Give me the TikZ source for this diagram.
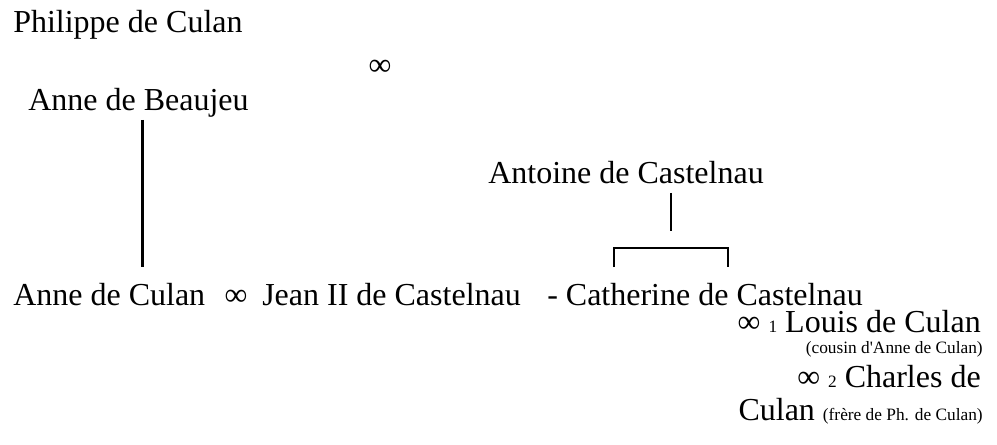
\documentclass[tikz,border=0pt]{standalone}
\usepackage{fontspec}
\setmainfont{Liberation Serif}
\newcommand{\namesize}{\fontsize{24}{28}\selectfont}
\newcommand{\notesize}{\fontsize{13}{15}\selectfont}

\begin{document}
\begin{tikzpicture}[x=0.75pt,y=-0.75pt,
  person/.style={inner sep=0pt, anchor=base west, font=\namesize},
  marriage/.style={inner sep=0pt, font=\namesize},
  note/.style={inner sep=0pt, anchor=base east, font=\notesize},
  link/.style={line width=1.6pt}]
\useasboundingbox (0,0) rectangle (997,444);
% Parents
\node[person] (philippe) at (13,32) {Philippe de Culan};
\node[marriage] (mar0) at (380,68) {∞};
\node[person] (beaujeu) at (28,110) {Anne de Beaujeu};
\node[person] (antoine) at (488,183) {Antoine de Castelnau};

% Children
\node[person] (anne) at (13,305) {Anne de Culan};
\node[marriage, anchor=base] (mar1) at (236,305) {∞};
\node[person] (jean) at (262,305) {Jean II de Castelnau};
\node[person] (catherine) at (547,305) {- Catherine de Castelnau};

% Marriages of Catherine
\node[person, anchor=base east] (louis) at (981,332) {∞ {\notesize 1} Louis de Culan};
\node[note] (cousin) at (983,353) {(cousin d\textquotesingle Anne de Culan)};
\node[person, anchor=base east] (charles) at (981,387) {∞ {\notesize 2} Charles de};
\node[person, anchor=base east] (charlesb) at (983,420) {Culan {\notesize (frère de Ph. de Culan)}};

% Descent lines
\coordinate (fork) at (671,248);
\coordinate (legL) at (614,267);
\coordinate (legR) at (728,267);
\draw[link] ([xshift=3pt,yshift=-2pt]beaujeu.south) -- ([xshift=3pt,yshift=12pt]beaujeu.south |- anne.north);
\draw[link] ([yshift=-7pt]antoine.south -| fork) -- ([yshift=13pt]fork);
\draw[link] (legL) |- (fork) -| (legR);
\end{tikzpicture}
\end{document}
